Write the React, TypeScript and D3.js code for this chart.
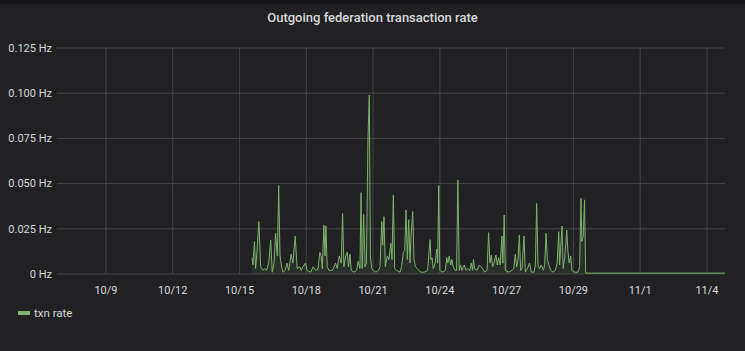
import React, { useMemo } from "react";
import * as d3 from "d3";

const WIDTH = 745;
const HEIGHT = 351;
const MARGIN_LEFT = 57;
const MARGIN_RIGHT = 20;
const PLOT_TOP = 48;
const PLOT_BOTTOM = 274;
const LINE_COLOR = "#7eb26d";
const TEXT_COLOR = "#d8d9da";
const GRID_COLOR = "#444446";

const TITLE = "Outgoing federation transaction rate";
const SERIES_NAME = "txn rate";

// x values are days since 10/9 00:00
const X_DOMAIN = [-2.2, 27.81];
const X_TICKS = [0, 3, 6, 9, 12, 15, 18, 21, 24, 27];
const X_TICK_LABELS = ["10/9", "10/12", "10/15", "10/18", "10/21", "10/24", "10/27", "10/29", "11/1", "11/4"];
const Y_TICKS = [0, 0.025, 0.05, 0.075, 0.1, 0.125];
const Y_TICK_LABELS = ["0 Hz", "0.025 Hz", "0.050 Hz", "0.075 Hz", "0.100 Hz", "0.125 Hz"];

const days = [
  6.56, 6.6, 6.67, 6.72, 6.76, 6.87, 6.95, 7.05, 7.14, 7.21, 7.31, 7.4, 7.47, 7.55, 7.62, 7.7, 7.76, 7.82, 7.88, 7.95,
  8.05, 8.13, 8.21, 8.32, 8.4, 8.5, 8.59, 8.7, 8.77, 8.85, 8.96, 9.04, 9.2, 9.31, 9.42, 9.52, 9.61, 9.67, 9.72, 9.79,
  9.84, 9.88, 9.94, 10.02, 10.17, 10.32, 10.39, 10.48, 10.57, 10.63, 10.69, 10.77, 10.84, 10.9, 10.96, 11.02, 11.14,
  11.26, 11.33, 11.41, 11.46, 11.51, 11.58, 11.64, 11.7, 11.77, 11.83, 11.88, 11.94, 12.02, 12.13, 12.24, 12.31, 12.39,
  12.43, 12.49, 12.55, 12.64, 12.71, 12.8, 12.85, 12.91, 12.97, 13.06, 13.21, 13.28, 13.36, 13.42, 13.48, 13.54, 13.6,
  13.66, 13.7, 13.78, 13.84, 13.9, 13.99, 14.06, 14.15, 14.3, 14.45, 14.5, 14.56, 14.6, 14.65, 14.7, 14.79, 14.86, 14.9,
  14.95, 15.0, 15.13, 15.24, 15.31, 15.36, 15.42, 15.49, 15.54, 15.6, 15.69, 15.75, 15.81, 15.87, 15.93, 15.99, 16.1,
  16.17, 16.26, 16.35, 16.41, 16.47, 16.51, 16.56, 16.67, 16.77, 16.85, 16.92, 17.01, 17.12, 17.19, 17.25, 17.31, 17.37,
  17.43, 17.52, 17.58, 17.64, 17.71, 17.79, 17.83, 17.89, 17.94, 18.09, 18.24, 18.32, 18.39, 18.45, 18.51, 18.57, 18.63,
  18.69, 18.78, 18.84, 18.93, 19.03, 19.11, 19.23, 19.29, 19.35, 19.41, 19.48, 19.56, 19.65, 19.71, 19.77, 19.83, 19.9,
  19.98, 20.08, 20.18, 20.27, 20.34, 20.38, 20.43, 20.49, 20.54, 20.61, 20.7, 20.75, 20.81, 20.88, 20.93, 21.06, 21.2,
  21.28, 21.34, 21.38, 21.44, 21.5, 21.55, 28.0,
];

const rate = [
  0.009, 0.005, 0.018, 0.003, 0.008, 0.029, 0.004, 0.002, 0.003, 0.002, 0.006, 0.0188, 0.001, 0.006, 0.0225, 0.01, 0.049, 0.01, 0.005, 0.001,
  0.002, 0.006, 0.002, 0.011, 0.006, 0.021, 0.003, 0.004, 0.002, 0.004, 0.006, 0.002, 0.001, 0.004, 0.002, 0.0025, 0.012, 0.01, 0.003, 0.027,
  0.01, 0.0265, 0.004, 0.002, 0.002, 0.006, 0.003, 0.01, 0.006, 0.0335, 0.004, 0.01, 0.012, 0.004, 0.011, 0.002, 0.001,
  0.002, 0.007, 0.003, 0.045, 0.003, 0.033, 0.004, 0.006, 0.075, 0.099, 0.01, 0.003, 0.002, 0.001, 0.002, 0.004, 0.029,
  0.016, 0.0317, 0.004, 0.01, 0.008, 0.017, 0.008, 0.0437, 0.003, 0.002, 0.001, 0.004, 0.012, 0.013, 0.0354, 0.008, 0.03,
  0.006, 0.02, 0.0345, 0.008, 0.004, 0.003, 0.002, 0.001, 0.001, 0.002, 0.01, 0.019, 0.008, 0.009, 0.003, 0.006, 0.0138, 0.006,
  0.0489, 0.002, 0.001, 0.002, 0.009, 0.006, 0.01, 0.005, 0.008, 0.004, 0.002, 0.002, 0.052, 0.002, 0.005, 0.002, 0.005,
  0.002, 0.003, 0.002, 0.006, 0.002, 0.008, 0.003, 0.002, 0.005, 0.004, 0.003, 0.001, 0.002, 0.0229, 0.006, 0.0105, 0.004,
  0.006, 0.0105, 0.005, 0.009, 0.005, 0.021, 0.006, 0.0326, 0.002, 0.001, 0.002, 0.003, 0.011, 0.004, 0.008, 0.0216, 0.002,
  0.003, 0.021, 0.001, 0.003, 0.006, 0.001, 0.001, 0.005, 0.039, 0.005, 0.003, 0.005, 0.002, 0.005, 0.0225, 0.008, 0.005,
  0.002, 0.001, 0.002, 0.006, 0.0234, 0.005, 0.015, 0.0265, 0.003, 0.009, 0.0243, 0.013, 0.006, 0.01, 0.002, 0.001, 0.001,
  0.004, 0.0419, 0.018, 0.021, 0.041, 0.0005, 0.0005,
];

export default function App() {
  const x = useMemo(
    () => d3.scaleLinear().domain(X_DOMAIN).range([MARGIN_LEFT, WIDTH - MARGIN_RIGHT]),
    []
  );
  const y = useMemo(
    () => d3.scaleLinear().domain([0, 0.125]).range([PLOT_BOTTOM, PLOT_TOP]),
    []
  );

  const points = days.map((d, i) => [d, rate[i]] as [number, number]);
  const line = d3
    .line<[number, number]>()
    .x((d) => x(d[0]))
    .y((d) => y(d[1]))(points);
  const area = d3
    .area<[number, number]>()
    .x((d) => x(d[0]))
    .y0(y(0))
    .y1((d) => y(d[1]))(points);

  const font = "Roboto, 'Helvetica Neue', Arial, sans-serif";

  return (
    <div style={{ position: "absolute", left: 0, top: 0 }}>
      <svg width={WIDTH} height={HEIGHT} style={{ display: "block", fontFamily: font }}>
        <defs>
          <clipPath id="plot">
            <rect x={MARGIN_LEFT} y={PLOT_TOP - 5} width={WIDTH - MARGIN_RIGHT - MARGIN_LEFT} height={PLOT_BOTTOM - PLOT_TOP + 5} />
          </clipPath>
        </defs>
        <rect width={WIDTH} height={HEIGHT} fill="#161719" />
        <rect x={0} y={4} width={WIDTH} height={HEIGHT - 4} fill="#212124" />
        <text x={WIDTH / 2} y={22} textAnchor="middle" fill={TEXT_COLOR} fontSize={13} fontWeight={500}>
          {TITLE}
        </text>

        {/* grid */}
        <g>
          {Y_TICKS.map((t) => (
            <line key={"y" + t} x1={MARGIN_LEFT} x2={WIDTH - MARGIN_RIGHT} y1={y(t)} y2={y(t)} stroke={GRID_COLOR} strokeWidth={1} />
          ))}
          {X_TICKS.map((t) => (
            <line key={"x" + t} x1={x(t)} x2={x(t)} y1={PLOT_TOP} y2={PLOT_BOTTOM} stroke={GRID_COLOR} strokeWidth={1} />
          ))}
        </g>

        {/* axis labels */}
        <g fill={TEXT_COLOR} fontSize={11}>
          {Y_TICKS.map((t, i) => (
            <text key={"yl" + t} x={MARGIN_LEFT - 5} y={y(t)} dy="0.35em" textAnchor="end">
              {Y_TICK_LABELS[i]}
            </text>
          ))}
          {X_TICKS.map((t, i) => (
            <text key={"xl" + t} x={x(t)} y={PLOT_BOTTOM + 20} textAnchor="middle">
              {X_TICK_LABELS[i]}
            </text>
          ))}
        </g>

        {/* series */}
        <g clipPath="url(#plot)">
          <path d={area || ""} fill={LINE_COLOR} fillOpacity={0.1} />
          <path d={line || ""} fill="none" stroke={LINE_COLOR} strokeWidth={1} />
        </g>

        {/* legend */}
        <line x1={18} x2={30} y1={313} y2={313} stroke={LINE_COLOR} strokeWidth={4} />
        <text x={34} y={313} dy="0.35em" fill={TEXT_COLOR} fontSize={11.5}>
          {SERIES_NAME}
        </text>
      </svg>
    </div>
  );
}
